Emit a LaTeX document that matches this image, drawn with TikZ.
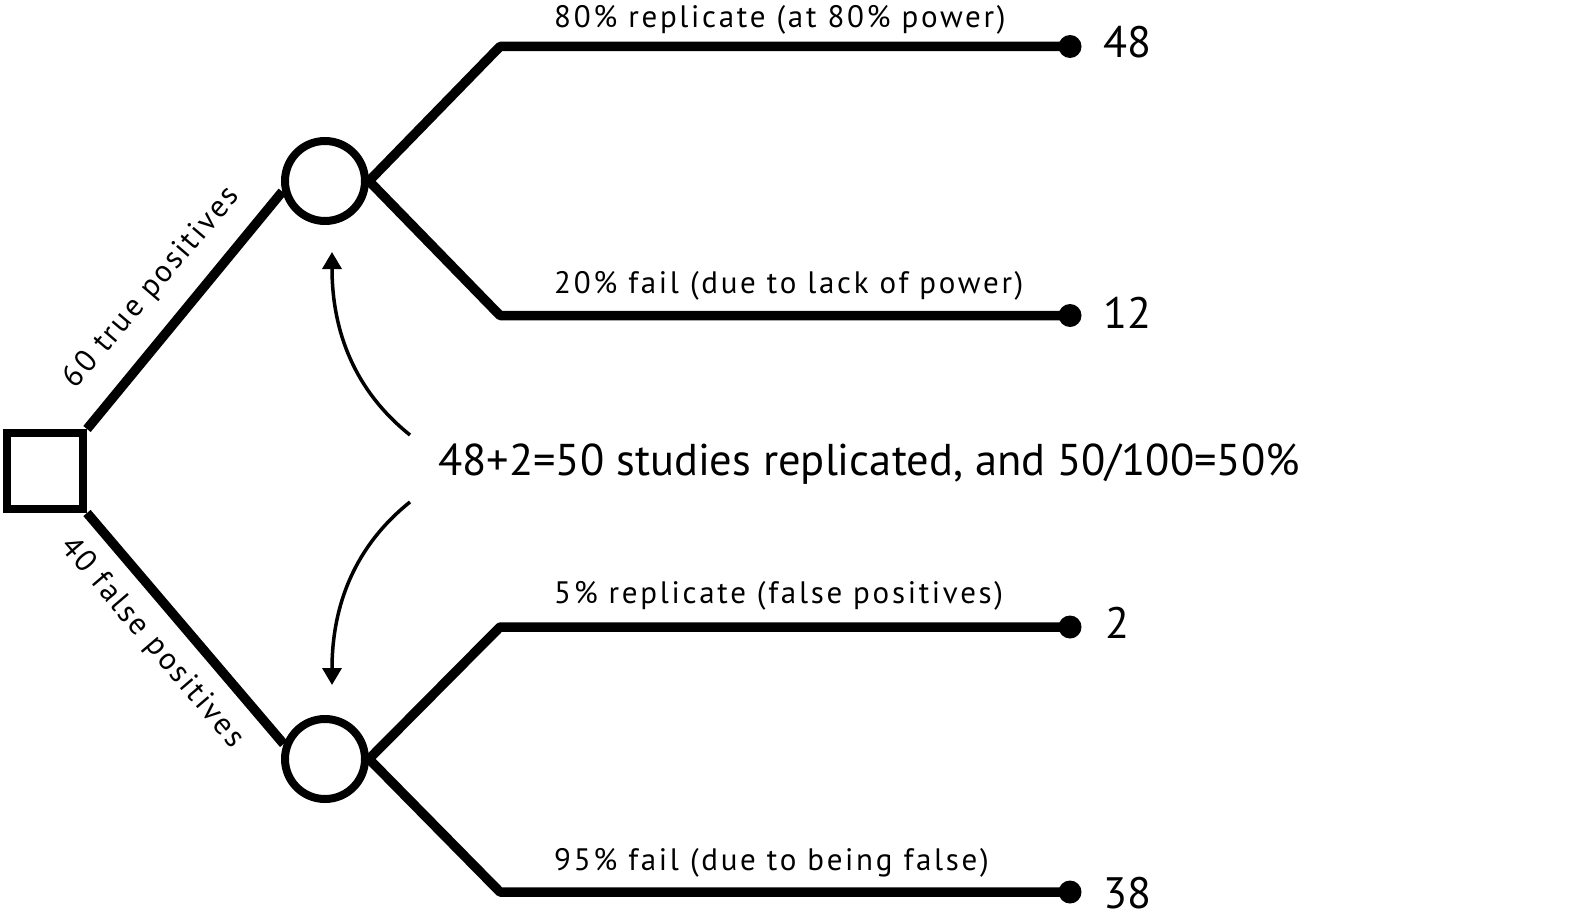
\documentclass[tikz,border=0pt]{standalone}
\usepackage{fontspec}
\setmainfont{PT Sans}
\newfontfamily\lblfont[LetterSpace=7.5]{PT Sans}
\newfontfamily\hlblfont[LetterSpace=8.7]{PT Sans}
\usetikzlibrary{arrows.meta}
\tikzset{
  branch/.style={line width=9.5pt, line join=round},
  decbox/.style={draw, line width=8pt, minimum size=76pt, inner sep=0pt},
  chance/.style={circle, draw, line width=8pt, minimum size=80pt, inner sep=0pt},
  enddot/.style={circle, fill, minimum size=23pt, inner sep=0pt},
  lbl/.style={anchor=base west, inner sep=0pt, font=\hlblfont\fontsize{31}{37}\selectfont},
  rlbl/.style={inner sep=0pt, font=\lblfont\fontsize{31}{37}\selectfont},
  num/.style={anchor=base west, inner sep=0pt, font=\fontsize{44}{50}\selectfont},
  pointer/.style={line width=3.5pt, -{Triangle[length=17pt,width=19pt]}},
}
\begin{document}
\begin{tikzpicture}[x=1pt,y=1pt]
\useasboundingbox (0,0) rectangle (1586,-915);

% decision square and chance circles
\node[decbox] (sq) at (45,-471) {};
\node[chance] (c1) at (325,-181) {};
\node[chance] (c2) at (325,-759) {};

% corners and end dots
\coordinate (k1) at (500,-46.5);
\coordinate (k2) at (500,-315.5);
\coordinate (k3) at (500,-627);
\coordinate (k4) at (500,-892);
\node[enddot] (d1) at (1070,-46.5) {};
\node[enddot] (d2) at (1070,-315.5) {};
\node[enddot] (d3) at (1070,-627) {};
\node[enddot] (d4) at (1070,-892) {};

% connectors
\draw[branch] (sq.north east) -- (c1.194);
\draw[branch] (sq.south east) -- (c2.160);
\draw[branch] (c1.east) -- (k1) -- (d1.center);
\draw[branch] (c1.east) -- (k2) -- (d2.center);
\draw[branch] (c2.east) -- (k3) -- (d3.center);
\draw[branch] (c2.east) -- (k4) -- (d4.center);

% branch labels
\node[rlbl, rotate=49.5] (tp) at (152,-288) {60 true positives};
\node[rlbl, rotate=-49.5] (fp) at (152,-643) {40 false positives};
\node[lbl] (l1) at (554,-28) {80\% replicate (at 80\% power)};
\node[lbl] (l2) at (554,-293) {20\% fail (due to lack of power)};
\node[lbl] (l3) at (554,-603) {5\% replicate (false positives)};
\node[lbl] (l4) at (554,-870) {95\% fail (due to being false)};

% outcome numbers
\node[num] (n1) at (1103,-58) {48};
\node[num] (n2) at (1103,-328) {12};
\node[num] (n3) at (1105,-638) {2};
\node[num] (n4) at (1103,-908) {38};

% central note
\node[anchor=base west, inner sep=0pt, font=\fontsize{44.5}{50}\selectfont] (mid) at (438,-475) {48+2=50 studies replicated, and 50/100=50\%};

% curved pointers
\coordinate (a1s) at (410,-435);
\coordinate (a1e) at (332,-252);
\coordinate (a2s) at (410,-502);
\coordinate (a2e) at (332,-685);
\draw[pointer] (a1s) .. controls (355,-391) and (332,-332) .. (a1e);
\draw[pointer] (a2s) .. controls (355,-546) and (332,-605) .. (a2e);
\end{tikzpicture}
\end{document}
